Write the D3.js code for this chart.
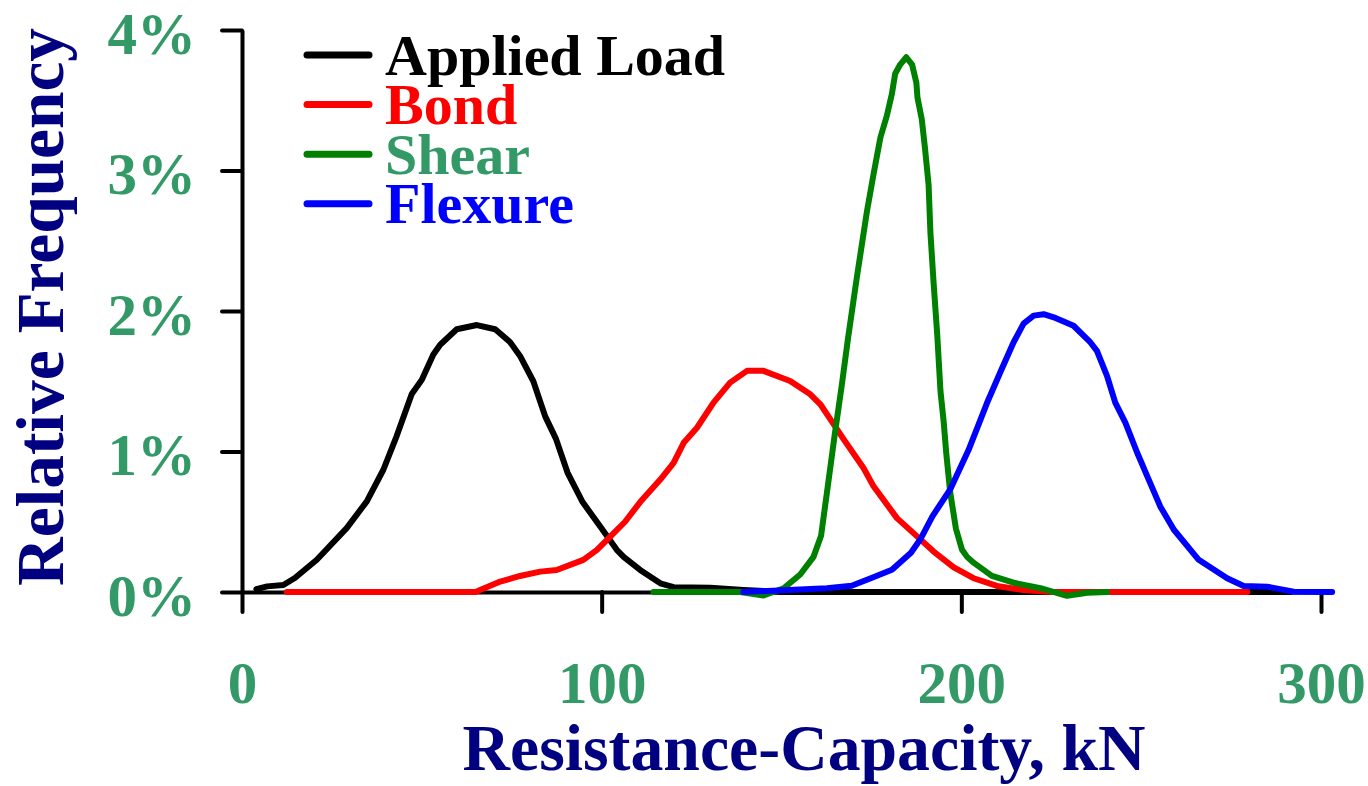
<!DOCTYPE html>
<html>
<head>
<meta charset="utf-8">
<script src="https://cdn.jsdelivr.net/npm/d3@7"></script>
<style>
  body { margin: 0; background: #fff; }
  text { font-family: "Liberation Serif", "Times New Roman", serif; font-weight: bold; }
</style>
</head>
<body>
<svg id="chart" width="1368" height="786"></svg>
<script>
// Resistance/capacity in kN, relative frequency in %
const appliedLoad = [
  [4, 0.02], [7, 0.04], [11.5, 0.05], [14.7, 0.1], [20.8, 0.23], [29.1, 0.455],
  [34.7, 0.645], [39.3, 0.87], [43, 1.11], [47.2, 1.41], [50, 1.51], [53.2, 1.69],
  [55.1, 1.76], [59.7, 1.87], [65.3, 1.9], [70.4, 1.87], [74.5, 1.78], [77.3, 1.68],
  [81, 1.5], [84.3, 1.25], [87.3, 1.09], [90.5, 0.85], [94.7, 0.64], [99.6, 0.466],
  [104.2, 0.3], [106.1, 0.25], [110.7, 0.157], [116.3, 0.062], [120, 0.034],
  [130.2, 0.031], [139.4, 0.014], [150, 0], [291.5, 0]
];

const bond = [
  [12.5, 0], [65, 0], [66.2, 0.014], [71.8, 0.074], [77.3, 0.114], [82.9, 0.145],
  [87.5, 0.157], [94.9, 0.229], [98.7, 0.3], [103, 0.41], [106.5, 0.5], [110.7, 0.64],
  [116.3, 0.8], [120, 0.919], [122.8, 1.062], [126.5, 1.169], [131.1, 1.348],
  [135.7, 1.49], [140.4, 1.574], [145, 1.574], [152.4, 1.502], [158, 1.407],
  [160.8, 1.336], [163.6, 1.229], [167.3, 1.086], [172.8, 0.883], [175.6, 0.752],
  [182.1, 0.526], [186.7, 0.419], [192.3, 0.288], [197.9, 0.175], [203.4, 0.098],
  [209.9, 0.043], [217.3, 0.014], [225, 0], [279.5, 0]
];

const shear = [
  [114.4, 0], [138.5, 0], [145, -0.025], [150.6, 0.027], [155.2, 0.125], [158.9, 0.25],
  [161, 0.4], [162.8, 0.74], [164.8, 1.12], [166.8, 1.48], [168.5, 1.806], [171, 2.248],
  [173.8, 2.716], [175.6, 2.975], [177.5, 3.235], [179.3, 3.391], [180.7, 3.546],
  [181.6, 3.689], [183, 3.754], [184.7, 3.806], [186.3, 3.754], [187.5, 3.625],
  [187.8, 3.52], [189, 3.365], [189.9, 3.157], [190.9, 2.897], [191.4, 2.56],
  [192.3, 2.196], [193.3, 1.832], [194.2, 1.43], [195.1, 1.209], [195.8, 0.99],
  [196.9, 0.71], [198.5, 0.45], [200.2, 0.3], [201.6, 0.25], [203.4, 0.209],
  [208.5, 0.115], [214.5, 0.066], [222, 0.027], [229.4, -0.027], [235, -0.005],
  [240.5, 0]
];

const flexure = [
  [139.4, 0], [162.6, 0.027], [169.5, 0.045], [175, 0.1], [180.7, 0.158], [186, 0.28],
  [188.6, 0.375], [192, 0.54], [196.9, 0.73], [202, 1.01], [207.1, 1.343], [210.8, 1.562],
  [214.5, 1.776], [217.3, 1.91], [220.1, 1.967], [222.9, 1.977], [225.7, 1.955],
  [231.2, 1.895], [235.9, 1.776], [237.7, 1.716], [240.5, 1.538], [242.8, 1.348],
  [245.6, 1.205], [248.9, 0.991], [252.1, 0.8], [255.3, 0.609], [259.1, 0.443],
  [266, 0.229], [273.9, 0.098], [278.5, 0.043], [285, 0.038], [292.4, 0.002],
  [303.1, 0]
];

const seriesNames = ["Applied Load", "Bond", "Shear", "Flexure"];
const seriesData = [appliedLoad, bond, shear, flexure];
const lineColors = ["#000000", "#ff0000", "#008000", "#0000ff"];
const labelColors = ["#000000", "#ff0000", "#339966", "#0000ff"];

const xTicks = [0, 100, 200, 300];
const yTicks = [0, 1, 2, 3, 4];

const svg = d3.select("#chart");

const x = d3.scaleLinear().domain([0, 300]).range([242, 1321]);
const y = d3.scaleLinear().domain([0, 4]).range([592, 30]);

// axes
const xAxis = svg.append("g")
  .attr("transform", "translate(0,592)")
  .call(d3.axisBottom(x).tickValues(xTicks).tickSize(20).tickSizeOuter(0));

const yAxis = svg.append("g")
  .attr("transform", "translate(242,0)")
  .call(d3.axisLeft(y).tickValues(yTicks).tickSize(20).tickSizeOuter(0)
    .tickFormat(d => d + "%"));

[xAxis, yAxis].forEach(g => {
  g.select(".domain").attr("stroke", "#000").attr("stroke-width", 4);
  g.selectAll(".tick line").attr("stroke", "#000").attr("stroke-width", 4)
    .attr("stroke-linecap", "round");
  g.selectAll(".tick text")
    .attr("fill", "#339966")
    .style("font-size", "59px")
    .style("font-family", "'Liberation Serif', serif")
    .style("font-weight", "bold");
});

xAxis.selectAll(".tick text").attr("y", 111).attr("dy", null);
yAxis.selectAll(".tick text").attr("x", -46).attr("dy", "0.39em");

// curves
const line = d3.line()
  .x(d => x(d[0]))
  .y(d => y(d[1]));

svg.append("g")
  .selectAll("path")
  .data(seriesData)
  .enter()
  .append("path")
  .attr("d", line)
  .attr("fill", "none")
  .attr("stroke", (d, i) => lineColors[i])
  .attr("stroke-width", 6)
  .attr("stroke-linejoin", "round")
  .attr("stroke-linecap", "round");

// legend
const legend = svg.append("g")
  .selectAll("g")
  .data(seriesNames)
  .enter()
  .append("g")
  .attr("transform", (d, i) => `translate(0,${55 + i * 49.6})`);

legend.append("line")
  .attr("x1", 307).attr("x2", 369)
  .attr("stroke", (d, i) => lineColors[i])
  .attr("stroke-width", 7)
  .attr("stroke-linecap", "round");

legend.append("text")
  .attr("x", 385)
  .attr("y", 19.5)
  .attr("fill", (d, i) => labelColors[i])
  .style("font-size", "58px")
  .text(d => d);

// titles
svg.append("text")
  .attr("x", 804)
  .attr("y", 770)
  .attr("text-anchor", "middle")
  .attr("fill", "#000080")
  .attr("textLength", 683)
  .attr("lengthAdjust", "spacingAndGlyphs")
  .style("font-size", "66px")
  .text("Resistance-Capacity, kN");

svg.append("text")
  .attr("transform", "translate(63,307) rotate(-90)")
  .attr("text-anchor", "middle")
  .attr("fill", "#000080")
  .attr("textLength", 558)
  .attr("lengthAdjust", "spacingAndGlyphs")
  .style("font-size", "68px")
  .text("Relative Frequency");
</script>
</body>
</html>
